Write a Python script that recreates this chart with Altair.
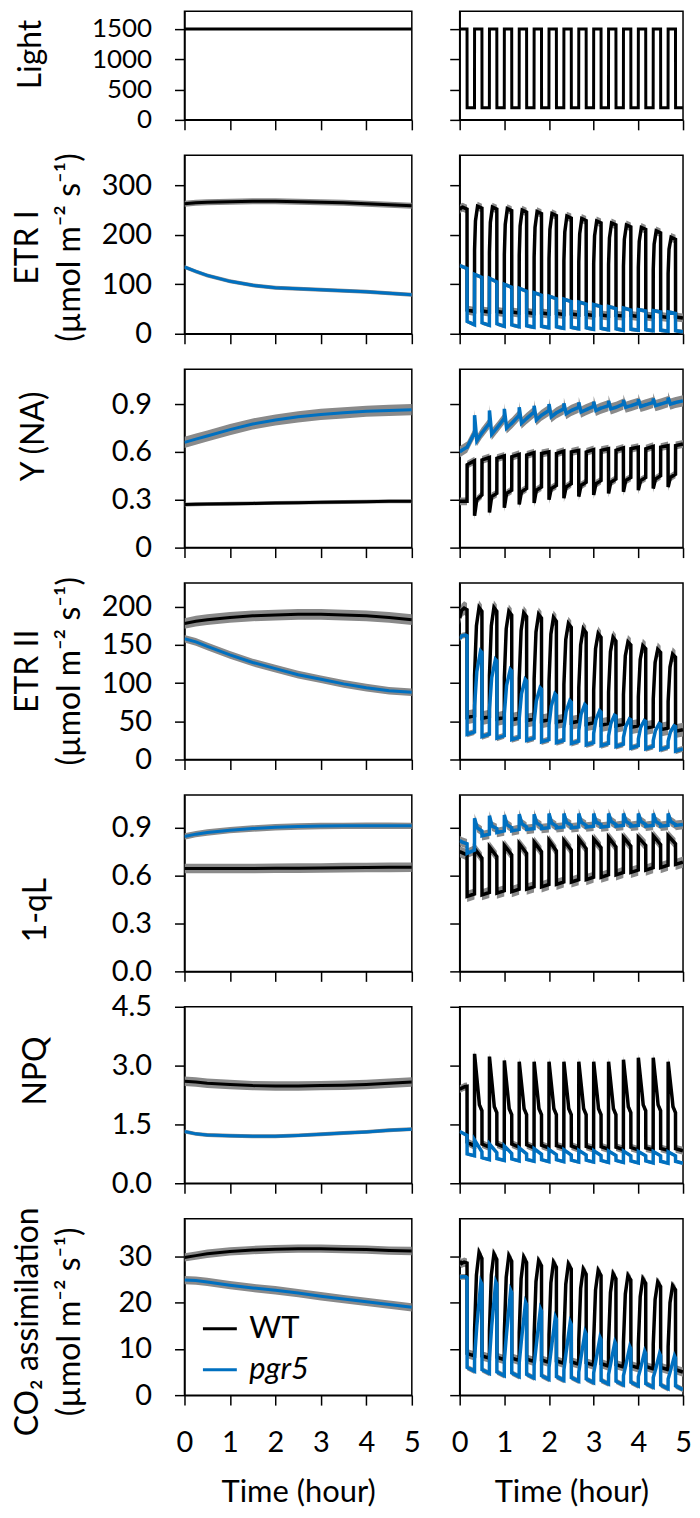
import altair as alt
import pandas as pd

FONT = "Lato"
WT_COLOR = "#000000"
PGR5_COLOR = "#0070C0"
BAND_COLOR = "#8a8a8a"
SERIES = ["WT", "pgr5"]
X_TICKS = [0, 1, 2, 3, 4, 5]

# ---------------- constant light (left column) ----------------
T_CONST = [0, 0.25, 0.5, 1, 1.5, 2, 2.5, 3, 3.5, 4, 4.5, 5]
LIGHT_C = [1500, 1500, 1500, 1500, 1500, 1500, 1500, 1500, 1500, 1500, 1500, 1500]
ETR1_C_WT = [263, 265, 266, 267, 268, 268, 267, 266, 265, 263, 261, 259]
ETR1_C_PG = [135, 126, 118, 106, 98, 93, 91, 89, 87, 85, 82, 79]
YNA_C_WT = [0.27, 0.272, 0.273, 0.275, 0.277, 0.28, 0.282, 0.284, 0.286, 0.288, 0.29, 0.29]
YNA_C_PG = [0.66, 0.68, 0.70, 0.74, 0.775, 0.80, 0.82, 0.835, 0.845, 0.855, 0.86, 0.865]
ETR2_C_WT = [178, 181, 183, 186, 188, 189, 190, 190, 189, 188, 186, 183]
ETR2_C_PG = [158, 154, 148, 137, 127, 119, 111, 105, 99, 94, 90, 88]
QL_C_WT = [0.645, 0.645, 0.645, 0.645, 0.645, 0.646, 0.647, 0.648, 0.65, 0.651, 0.652, 0.653]
QL_C_PG = [0.845, 0.86, 0.87, 0.885, 0.895, 0.903, 0.908, 0.911, 0.912, 0.913, 0.913, 0.912]
NPQ_C_WT = [2.6, 2.58, 2.55, 2.52, 2.49, 2.48, 2.48, 2.49, 2.5, 2.52, 2.55, 2.58]
NPQ_C_PG = [1.32, 1.26, 1.23, 1.21, 1.2, 1.2, 1.22, 1.25, 1.28, 1.31, 1.35, 1.38]
CO2_C_WT = [29.8, 30.2, 30.6, 31.1, 31.4, 31.6, 31.7, 31.7, 31.6, 31.5, 31.3, 31.2]
CO2_C_PG = [24.9, 24.8, 24.5, 23.8, 23.2, 22.7, 22.1, 21.4, 20.8, 20.2, 19.6, 19.0]
# error band half widths [WT, pgr5]
ERR_C = {"etr1": [6, 4], "yna": [0.012, 0.035], "etr2": [7, 5], "ql": [0.03, 0.02],
         "npq": [0.12, 0.05], "co2": [0.9, 0.9]}

# ---------------- fluctuating light (right column) ----------------
N_CYCLES = 15
PERIOD = 1 / 3      # hour (20 min)
PHASE = 1 / 6       # hour (10 min high, 10 min low)
EPS = 0.002

LIGHT_HIGH = [1500, 1500, 1500, 1500, 1500, 1500, 1500, 1500, 1500, 1500, 1500, 1500, 1500, 1500, 1500]
LIGHT_LOW = [200, 200, 200, 200, 200, 200, 200, 200, 200, 200, 200, 200, 200, 200, 200]

ETR1_WT_ON = [250, 170, 165, 160, 158, 155, 152, 148, 145, 142, 140, 137, 134, 130, 122]
ETR1_WT_RISE = [254, 228, 225, 221, 218, 215, 211, 206, 202, 198, 194, 191, 187, 181, 171]
ETR1_WT_PEAK = [256, 258, 256, 253, 250, 247, 243, 238, 233, 228, 224, 220, 215, 208, 195]
ETR1_WT_HEND = [252, 254, 252, 249, 246, 243, 239, 234, 229, 224, 220, 216, 211, 204, 191]
ETR1_WT_LS = [48, 46, 45, 44, 43, 42, 41, 40, 39, 38, 37, 37, 36, 35, 34]
ETR1_WT_LE = [45, 44, 43, 42, 41, 40, 39, 38, 37, 36, 36, 35, 34, 33, 32]
ETR1_PG_HS = [138, 120, 112, 100, 92, 83, 76, 70, 64, 59, 55, 52, 49, 47, 44]
ETR1_PG_HE = [132, 114, 105, 94, 86, 78, 71, 65, 60, 55, 51, 48, 46, 44, 41]
ETR1_PG_LS = [25, 22, 20, 18, 16, 15, 14, 13, 12, 11, 10, 9, 8, 7, 6]
ETR1_PG_LE = [18, 17, 15, 14, 13, 12, 11, 10, 9, 8, 7, 7, 6, 5, 4]

YNA_WT_DIP = [0.29, 0.20, 0.22, 0.25, 0.27, 0.28, 0.30, 0.31, 0.32, 0.33, 0.34, 0.35, 0.36, 0.37, 0.38]
YNA_WT_REC = [0.29, 0.30, 0.32, 0.34, 0.35, 0.36, 0.37, 0.38, 0.39, 0.40, 0.41, 0.42, 0.42, 0.43, 0.44]
YNA_WT_HEND = [0.29, 0.33, 0.34, 0.36, 0.37, 0.38, 0.39, 0.40, 0.41, 0.42, 0.43, 0.44, 0.44, 0.45, 0.46]
YNA_WT_LS = [0.52, 0.55, 0.56, 0.57, 0.58, 0.59, 0.59, 0.60, 0.60, 0.61, 0.61, 0.62, 0.62, 0.63, 0.64]
YNA_WT_LE = [0.545, 0.565, 0.575, 0.585, 0.595, 0.60, 0.605, 0.61, 0.615, 0.62, 0.625, 0.63, 0.635, 0.64, 0.65]
YNA_PG_SPK = [0.60, 0.83, 0.86, 0.87, 0.88, 0.89, 0.90, 0.905, 0.91, 0.915, 0.92, 0.925, 0.93, 0.935, 0.94]
YNA_PG_MIN = [0.61, 0.67, 0.71, 0.75, 0.78, 0.80, 0.82, 0.84, 0.85, 0.86, 0.87, 0.88, 0.885, 0.89, 0.90]
YNA_PG_MID = [0.63, 0.72, 0.75, 0.78, 0.81, 0.83, 0.845, 0.86, 0.865, 0.875, 0.88, 0.89, 0.895, 0.90, 0.91]
YNA_PG_PRE = [0.72, 0.78, 0.81, 0.83, 0.85, 0.86, 0.87, 0.88, 0.885, 0.89, 0.90, 0.905, 0.91, 0.915, 0.92]

ETR2_WT_ON = [185, 110, 110, 107, 106, 105, 102, 98, 94, 91, 88, 85, 82, 79, 76]
ETR2_WT_RISE = [195, 175, 175, 171, 169, 167, 164, 157, 150, 145, 141, 136, 131, 127, 121]
ETR2_WT_PEAK = [198, 199, 199, 194, 192, 190, 186, 178, 171, 165, 160, 154, 149, 144, 138]
ETR2_WT_HEND = [196, 194, 194, 189, 187, 185, 181, 173, 166, 160, 155, 150, 145, 140, 134]
ETR2_WT_LS = [55, 54, 53, 52, 51, 50, 49, 48, 46, 45, 44, 42, 41, 39, 37]
ETR2_WT_LE = [57, 56, 55, 54, 53, 52, 51, 50, 48, 47, 46, 44, 43, 41, 39]
ETR2_PG_ON = [158, 70, 66, 60, 54, 49, 45, 41, 38, 34, 31, 29, 27, 25, 24]
ETR2_PG_RISE = [162, 115, 107, 97, 86, 77, 70, 63, 59, 52, 47, 43, 42, 38, 36]
ETR2_PG_PEAK = [163, 142, 131, 118, 105, 94, 86, 77, 72, 64, 58, 53, 51, 47, 44]
ETR2_PG_HEND = [162, 140, 129, 116, 103, 92, 84, 75, 70, 62, 57, 52, 50, 46, 43]
ETR2_PG_LS = [33, 30, 28, 26, 25, 23, 22, 21, 19, 18, 17, 15, 14, 13, 11]
ETR2_PG_LE = [36, 33, 31, 29, 28, 26, 25, 24, 22, 21, 20, 18, 17, 16, 14]

QL_WT_PK = [0.75, 0.77, 0.78, 0.79, 0.80, 0.81, 0.82, 0.82, 0.83, 0.83, 0.84, 0.84, 0.84, 0.85, 0.85]
QL_WT_HE = [0.73, 0.71, 0.72, 0.73, 0.74, 0.75, 0.755, 0.76, 0.77, 0.775, 0.78, 0.785, 0.79, 0.795, 0.80]
QL_WT_LS = [0.47, 0.48, 0.49, 0.50, 0.515, 0.53, 0.545, 0.56, 0.575, 0.59, 0.605, 0.62, 0.635, 0.65, 0.67]
QL_WT_LE = [0.485, 0.495, 0.505, 0.515, 0.53, 0.545, 0.56, 0.575, 0.59, 0.605, 0.62, 0.635, 0.65, 0.665, 0.685]
QL_PG_PK = [0.82, 0.96, 0.975, 0.98, 0.985, 0.985, 0.99, 0.99, 0.99, 0.99, 0.99, 0.99, 0.99, 0.99, 0.99]
QL_PG_MID = [0.81, 0.90, 0.91, 0.92, 0.925, 0.93, 0.93, 0.935, 0.935, 0.935, 0.94, 0.94, 0.94, 0.94, 0.94]
QL_PG_HE = [0.80, 0.88, 0.895, 0.90, 0.905, 0.91, 0.91, 0.915, 0.915, 0.92, 0.92, 0.92, 0.92, 0.92, 0.92]
QL_PG_LS = [0.74, 0.85, 0.87, 0.88, 0.89, 0.895, 0.90, 0.90, 0.905, 0.905, 0.91, 0.91, 0.91, 0.91, 0.915]
QL_PG_LE = [0.76, 0.86, 0.88, 0.89, 0.895, 0.90, 0.905, 0.905, 0.91, 0.91, 0.915, 0.915, 0.915, 0.915, 0.92]

NPQ_WT_PK = [2.40, 3.30, 3.23, 3.13, 3.10, 3.10, 3.10, 3.10, 3.10, 3.10, 3.10, 3.15, 3.20, 3.20, 3.10]
NPQ_WT_K1 = [2.45, 2.20, 2.15, 2.10, 2.10, 2.10, 2.10, 2.10, 2.10, 2.10, 2.10, 2.15, 2.20, 2.20, 2.15]
NPQ_WT_K2 = [2.46, 2.00, 1.95, 1.90, 1.90, 1.90, 1.90, 1.90, 1.90, 1.90, 1.90, 1.95, 2.00, 2.00, 1.95]
NPQ_WT_HE = [2.47, 1.85, 1.80, 1.75, 1.75, 1.75, 1.75, 1.75, 1.75, 1.75, 1.75, 1.80, 1.85, 1.85, 1.80]
NPQ_WT_LS = [1.05, 1.00, 1.00, 1.00, 0.98, 0.97, 0.96, 0.95, 0.94, 0.93, 0.92, 0.91, 0.90, 0.89, 0.88]
NPQ_WT_LE = [0.95, 0.92, 0.92, 0.92, 0.90, 0.90, 0.90, 0.88, 0.88, 0.87, 0.86, 0.85, 0.85, 0.84, 0.83]
NPQ_PG_PK = [1.32, 1.10, 1.00, 0.95, 0.90, 0.88, 0.86, 0.85, 0.84, 0.83, 0.82, 0.82, 0.81, 0.81, 0.80]
NPQ_PG_HE = [1.22, 0.80, 0.78, 0.76, 0.75, 0.74, 0.73, 0.72, 0.72, 0.71, 0.71, 0.70, 0.70, 0.70, 0.70]
NPQ_PG_LS = [0.75, 0.65, 0.63, 0.62, 0.61, 0.60, 0.60, 0.59, 0.59, 0.58, 0.58, 0.57, 0.57, 0.56, 0.56]
NPQ_PG_LE = [0.70, 0.60, 0.58, 0.57, 0.56, 0.55, 0.55, 0.54, 0.54, 0.53, 0.53, 0.52, 0.52, 0.51, 0.51]

CO2_WT_ON = [29.0, 14.0, 14.0, 13.5, 13.5, 13.0, 13.0, 12.5, 12.0, 12.0, 11.5, 11.5, 11.0, 11.0, 10.5]
CO2_WT_RISE = [28.5, 26.0, 26.0, 25.5, 25.2, 24.6, 24.3, 24.0, 23.1, 22.8, 22.2, 21.9, 21.3, 20.7, 20.0]
CO2_WT_PEAK = [28.8, 30.9, 30.6, 30.2, 29.9, 29.1, 28.8, 28.4, 27.3, 27.0, 26.3, 25.9, 25.2, 24.5, 23.7]
CO2_WT_HEND = [28.6, 29.6, 29.4, 29.0, 28.7, 28.0, 27.7, 27.3, 26.2, 25.9, 25.2, 24.9, 24.2, 23.5, 22.8]
CO2_WT_LS = [9.0, 8.5, 8.2, 8.0, 7.8, 7.6, 7.4, 7.2, 7.0, 6.8, 6.6, 6.4, 6.2, 6.0, 5.5]
CO2_WT_LE = [8.5, 8.0, 7.7, 7.5, 7.3, 7.1, 6.9, 6.7, 6.5, 6.3, 6.1, 5.9, 5.7, 5.5, 5.0]
CO2_PG_ON = [25.5, 8.0, 8.0, 7.5, 7.0, 6.5, 6.0, 5.5, 5.0, 4.8, 4.5, 4.2, 4.0, 3.8, 3.5]
CO2_PG_RISE = [25.6, 15.0, 15.0, 13.5, 12.0, 11.0, 10.0, 9.3, 8.2, 7.5, 7.0, 6.4, 5.8, 5.5, 5.2]
CO2_PG_PEAK = [25.6, 24.5, 24.5, 22.7, 20.1, 18.7, 16.9, 15.8, 13.7, 12.5, 11.5, 10.5, 9.5, 9.0, 8.5]
CO2_PG_HEND = [25.4, 24.0, 24.0, 22.2, 19.6, 18.2, 16.4, 15.3, 13.2, 12.0, 11.0, 10.0, 9.0, 8.5, 8.0]
CO2_PG_LS = [6.0, 5.5, 5.0, 4.8, 4.5, 4.2, 4.0, 3.8, 3.5, 3.2, 3.0, 2.8, 2.5, 2.2, 2.0]
CO2_PG_LE = [5.2, 4.7, 4.2, 4.0, 3.7, 3.4, 3.2, 3.0, 2.7, 2.4, 2.2, 2.0, 1.7, 1.4, 1.2]

ERR_F = {"etr1": [9, 4], "yna": [0.025, 0.035], "etr2": [9, 4], "ql": [0.035, 0.03],
         "npq": [0.1, 0.04], "co2": [1.0, 0.6]}


def const_df(wt, pg, err):
    rows = []
    for s, vals, e in (("WT", wt, err[0]), ("pgr5", pg, err[1])):
        for t, v in zip(T_CONST, vals):
            rows.append({"t": t, "v": v, "lo": v - e, "hi": v + e, "s": s})
    return pd.DataFrame(rows)


def fl_points(hi_keys, lo_keys):
    out = []
    for k in range(N_CYCLES):
        t0 = k * PERIOD
        for f, arr in hi_keys:
            out.append((t0 + f * PHASE - (EPS if f == 1 else 0), arr[k]))
        for f, arr in lo_keys:
            out.append((t0 + PHASE + f * PHASE - (EPS if f == 1 else 0), arr[k]))
    return out


def fl_df(wt_pts, pg_pts, err):
    rows = []
    for s, pts, e in (("WT", wt_pts, err[0]), ("pgr5", pg_pts, err[1])):
        if pts is None:
            continue
        for t, v in pts:
            rows.append({"t": t, "v": v, "lo": v - e, "hi": v + e, "s": s})
    return pd.DataFrame(rows)


LEGEND = alt.Legend(
    orient="none", legendX=17, legendY=92, title=None, symbolType="stroke",
    symbolStrokeWidth=3, symbolSize=1156, labelFont=FONT, labelFontSize=31,
    labelColor="#000", labelOffset=11, rowPadding=7, padding=0,
    labelFontStyle={"expr": "datum.label == 'pgr5' ? 'italic' : 'normal'"},
)


def panel(df, ymax, yticks, lab_expr, h, w, left, bottom, title=None, tx=0, ty=0,
          legend=None, band=True, series=SERIES, sw=3, lab_size=29):
    if bottom:
        xaxis = alt.Axis(values=X_TICKS, labels=True, title="Time (hour)", labelFlush=False,
                         labelPadding=24, titleX=w / 2, titleY=98, titleBaseline="middle",
                         titleAlign="center", titleFontSize=31)
    else:
        xaxis = alt.Axis(values=X_TICKS, labels=False, title=None)
    if left:
        yaxis = alt.Axis(values=yticks, labelExpr=lab_expr, title=title, titleX=tx, titleY=ty,
                         titleAngle=-90, titleAlign="center", titleBaseline="middle",
                         titleLineHeight=42, labelFlush=False, labelPadding=23,
                         labelFontSize=lab_size)
    else:
        yaxis = alt.Axis(values=yticks, labels=False, title=None)
    xenc = alt.X("t:Q", scale=alt.Scale(domain=[0, 5], nice=False, zero=False), axis=xaxis)
    ysc = alt.Scale(domain=[0, ymax], nice=False, zero=False)
    layers = []
    if band:
        for s in series:
            layers.append(
                alt.Chart(df[df.s == s]).mark_area(color=BAND_COLOR, clip=True).encode(
                    x=xenc, y=alt.Y("lo:Q", scale=ysc, axis=yaxis), y2="hi:Q"))
    for s in series:
        layers.append(
            alt.Chart(df[df.s == s]).mark_line(strokeWidth=sw, clip=True).encode(
                x=xenc, y=alt.Y("v:Q", scale=ysc, axis=yaxis),
                color=alt.Color("s:N", scale=alt.Scale(domain=SERIES, range=[WT_COLOR, PGR5_COLOR]),
                                legend=legend)))
    return alt.layer(*layers).properties(width=w, height=h)


WL, WR = 228, 224
TWO_LINE_X = -157
RSW = 3.5
ROWS = []

# Light
light_l = const_df(LIGHT_C, LIGHT_C, [0, 0])
light_r = fl_df(fl_points([(0, LIGHT_HIGH), (1, LIGHT_HIGH)], [(0, LIGHT_LOW), (1, LIGHT_LOW)]), None, [0, 0])
ROWS.append((
    panel(light_l, 1792, [0, 500, 1000, 1500], "format(datum.value, 'd')", 109, WL, True, False,
          "Light", -154, 43, band=False, series=["WT"], lab_size=26),
    panel(light_r, 1792, [0, 500, 1000, 1500], "", 109, WR, False, False, band=False,
          series=["WT"]),
))

# ETR I
etr1_r = fl_df(
    fl_points([(0, ETR1_WT_ON), (0.12, ETR1_WT_RISE), (0.4, ETR1_WT_PEAK), (1, ETR1_WT_HEND)],
              [(0, ETR1_WT_LS), (1, ETR1_WT_LE)]),
    fl_points([(0, ETR1_PG_HS), (1, ETR1_PG_HE)], [(0, ETR1_PG_LS), (1, ETR1_PG_LE)]),
    ERR_F["etr1"])
ROWS.append((
    panel(const_df(ETR1_C_WT, ETR1_C_PG, ERR_C["etr1"]), 361, [0, 100, 200, 300],
          "format(datum.value, 'd')", 179, WL, True, False,
          ["ETR I", "(\u00b5mol m\u207b\u00b2 s\u207b\u00b9)"], TWO_LINE_X, 92),
    panel(etr1_r, 361, [0, 100, 200, 300], "", 179, WR, False, False, sw=RSW),
))

# Y(NA)
yna_r = fl_df(
    fl_points([(0, YNA_WT_DIP), (0.3, YNA_WT_REC), (1, YNA_WT_HEND)], [(0, YNA_WT_LS), (1, YNA_WT_LE)]),
    fl_points([(0, YNA_PG_SPK), (0.3, YNA_PG_MIN), (1, YNA_PG_MID)], [(0, YNA_PG_MID), (1, YNA_PG_PRE)]),
    ERR_F["yna"])
ROWS.append((
    panel(const_df(YNA_C_WT, YNA_C_PG, ERR_C["yna"]), 1.119, [0, 0.3, 0.6, 0.9],
          "datum.value == 0 ? '0' : format(datum.value, '.1f')", 179, WL, True, False,
          "Y (NA)", -151, 67),
    panel(yna_r, 1.119, [0, 0.3, 0.6, 0.9], "", 179, WR, False, False, sw=RSW),
))

# ETR II
etr2_r = fl_df(
    fl_points([(0, ETR2_WT_ON), (0.25, ETR2_WT_RISE), (0.6, ETR2_WT_PEAK), (1, ETR2_WT_HEND)],
              [(0, ETR2_WT_LS), (1, ETR2_WT_LE)]),
    fl_points([(0, ETR2_PG_ON), (0.3, ETR2_PG_RISE), (0.8, ETR2_PG_PEAK), (1, ETR2_PG_HEND)],
              [(0, ETR2_PG_LS), (1, ETR2_PG_LE)]),
    ERR_F["etr2"])
ROWS.append((
    panel(const_df(ETR2_C_WT, ETR2_C_PG, ERR_C["etr2"]), 231, [0, 50, 100, 150, 200],
          "format(datum.value, 'd')", 177, WL, True, False,
          ["ETR II", "(\u00b5mol m\u207b\u00b2 s\u207b\u00b9)"], TWO_LINE_X, 88),
    panel(etr2_r, 231, [0, 50, 100, 150, 200], "", 177, WR, False, False, sw=RSW),
))

# 1-qL
ql_r = fl_df(
    fl_points([(0, QL_WT_PK), (1, QL_WT_HE)], [(0, QL_WT_LS), (1, QL_WT_LE)]),
    fl_points([(0, QL_PG_PK), (0.35, QL_PG_MID), (1, QL_PG_HE)], [(0, QL_PG_LS), (1, QL_PG_LE)]),
    ERR_F["ql"])
ROWS.append((
    panel(const_df(QL_C_WT, QL_C_PG, ERR_C["ql"]), 1.106, [0, 0.3, 0.6, 0.9],
          "format(datum.value, '.1f')", 177, WL, True, False, "1-qL", -149, 115),
    panel(ql_r, 1.106, [0, 0.3, 0.6, 0.9], "", 177, WR, False, False, sw=RSW),
))

# NPQ
npq_r = fl_df(
    fl_points([(0, NPQ_WT_PK), (0.55, NPQ_WT_K1), (0.65, NPQ_WT_K2), (1, NPQ_WT_HE)],
              [(0, NPQ_WT_LS), (1, NPQ_WT_LE)]),
    fl_points([(0, NPQ_PG_PK), (1, NPQ_PG_HE)], [(0, NPQ_PG_LS), (1, NPQ_PG_LE)]),
    ERR_F["npq"])
ROWS.append((
    panel(const_df(NPQ_C_WT, NPQ_C_PG, ERR_C["npq"]), 4.5, [0, 1.5, 3.0, 4.5],
          "format(datum.value, '.1f')", 177, WL, True, False, "NPQ", -149, 64),
    panel(npq_r, 4.5, [0, 1.5, 3.0, 4.5], "", 177, WR, False, False, sw=RSW),
))

# CO2 assimilation
co2_r = fl_df(
    fl_points([(0, CO2_WT_ON), (0.25, CO2_WT_RISE), (0.6, CO2_WT_PEAK), (1, CO2_WT_HEND)],
              [(0, CO2_WT_LS), (1, CO2_WT_LE)]),
    fl_points([(0, CO2_PG_ON), (0.3, CO2_PG_RISE), (0.85, CO2_PG_PEAK), (1, CO2_PG_HEND)],
              [(0, CO2_PG_LS), (1, CO2_PG_LE)]),
    ERR_F["co2"])
ROWS.append((
    panel(const_df(CO2_C_WT, CO2_C_PG, ERR_C["co2"]), 38.2, [0, 10, 20, 30],
          "format(datum.value, 'd')", 177, WL, True, True,
          ["CO\u2082 assimilation", "(\u00b5mol m\u207b\u00b2 s\u207b\u00b9)"], TWO_LINE_X, 103,
          legend=LEGEND),
    panel(co2_r, 38.2, [0, 10, 20, 30], "", 177, WR, False, True, sw=RSW),
))

panels = [p for row in ROWS for p in row]

chart = alt.concat(
    *panels, columns=2, spacing={"row": 35.5, "column": 48}, bounds="flush",
    padding={"left": 3, "top": 0, "right": -1, "bottom": -1},
).resolve_scale(color="independent").configure_view(
    stroke="#000", strokeWidth=1.5
).configure_axis(
    domainColor="#000", domainWidth=1.5, tickColor="#000", tickWidth=1.5, tickSize=10,
    grid=False, labelFont=FONT, labelFontSize=29, labelColor="#000", titleFont=FONT,
    titleFontSize=32, titleFontWeight="normal", titleColor="#000", labelOverlap=False,
)

chart.save("out.html", embed_options={"renderer": "svg", "actions": False})
